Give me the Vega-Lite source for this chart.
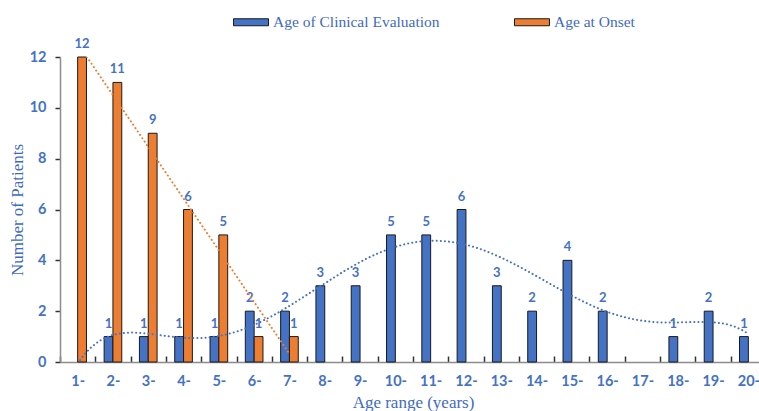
{
  "$schema": "https://vega.github.io/schema/vega-lite/v6.json",
  "width": 706,
  "height": 305,
  "autosize": "none",
  "padding": {"left": 60, "top": 57, "right": 0, "bottom": 49},
  "background": "white",
  "data": {
    "values": [
      {"age": 1, "series": "Age of Clinical Evaluation", "value": 0},
      {"age": 2, "series": "Age of Clinical Evaluation", "value": 1},
      {"age": 3, "series": "Age of Clinical Evaluation", "value": 1},
      {"age": 4, "series": "Age of Clinical Evaluation", "value": 1},
      {"age": 5, "series": "Age of Clinical Evaluation", "value": 1},
      {"age": 6, "series": "Age of Clinical Evaluation", "value": 2},
      {"age": 7, "series": "Age of Clinical Evaluation", "value": 2},
      {"age": 8, "series": "Age of Clinical Evaluation", "value": 3},
      {"age": 9, "series": "Age of Clinical Evaluation", "value": 3},
      {"age": 10, "series": "Age of Clinical Evaluation", "value": 5},
      {"age": 11, "series": "Age of Clinical Evaluation", "value": 5},
      {"age": 12, "series": "Age of Clinical Evaluation", "value": 6},
      {"age": 13, "series": "Age of Clinical Evaluation", "value": 3},
      {"age": 14, "series": "Age of Clinical Evaluation", "value": 2},
      {"age": 15, "series": "Age of Clinical Evaluation", "value": 4},
      {"age": 16, "series": "Age of Clinical Evaluation", "value": 2},
      {"age": 18, "series": "Age of Clinical Evaluation", "value": 1},
      {"age": 19, "series": "Age of Clinical Evaluation", "value": 2},
      {"age": 20, "series": "Age of Clinical Evaluation", "value": 1},
      {"age": 1, "series": "Age at Onset", "value": 12},
      {"age": 2, "series": "Age at Onset", "value": 11},
      {"age": 3, "series": "Age at Onset", "value": 9},
      {"age": 4, "series": "Age at Onset", "value": 6},
      {"age": 5, "series": "Age at Onset", "value": 5},
      {"age": 6, "series": "Age at Onset", "value": 1},
      {"age": 7, "series": "Age at Onset", "value": 1}
    ]
  },
  "layer": [
    {
      "transform": [{"filter": "datum.value > 0"}],
      "encoding": {
        "x": {
          "field": "age",
          "type": "ordinal",
          "scale": {"domain": [1,2,3,4,5,6,7,8,9,10,11,12,13,14,15,16,17,18,19,20], "paddingInner": 0, "paddingOuter": 0},
          "axis": {
            "title": "Age range (years)",
            "labelExpr": "datum.label == null || datum.label === '' ? '' : datum.label + '-'",
            "labelAngle": 0,
            "ticks": true,
            "tickBand": "extent",
            "tickExtra": true,
            "tickSize": -6,
            "labelPadding": 18,
            "titlePadding": 7
          }
        },
        "xOffset": {
          "field": "series",
          "type": "nominal",
          "scale": {"domain": ["Age of Clinical Evaluation", "Age at Onset"], "paddingOuter": 1, "paddingInner": 0}
        },
        "y": {
          "field": "value",
          "type": "quantitative",
          "scale": {"domain": [0, 12], "nice": false},
          "axis": {"title": "Number of Patients", "values": [0,2,4,6,8,10,12], "grid": false, "titlePadding": 3}
        }
      },
      "layer": [
        {
          "mark": {"type": "bar", "stroke": "#1a1a1a", "strokeWidth": 1},
          "encoding": {
            "color": {
              "field": "series",
              "type": "nominal",
              "scale": {"domain": ["Age of Clinical Evaluation", "Age at Onset"], "range": ["#4472C4", "#ED7D31"]},
              "legend": {
                "title": null,
                "orient": "none",
                "direction": "horizontal",
                "legendX": 173,
                "legendY": -53,
                "symbolType": "M-1,-0.2L1,-0.2L1,0.2L-1,0.2Z",
                "symbolSize": 1225,
                "symbolStrokeColor": "#1a1a1a",
                "symbolStrokeWidth": 1,
                "symbolOpacity": 1,
                "labelFont": "Liberation Serif",
                "labelFontSize": 15.5,
                "labelColor": "#3F6BBF",
                "labelOffset": 4,
                "columnPadding": 72,
                "labelLimit": 300
              }
            }
          }
        },
        {
          "mark": {"type": "text", "baseline": "bottom", "dy": -6, "font": "Lato", "fontWeight": "bold", "fontSize": 13, "color": "#4472C4"},
          "encoding": {"text": {"field": "value", "type": "quantitative"}}
        }
      ]
    },
    {
      "encoding": {
        "x": {"field": "age", "type": "quantitative", "scale": {"domain": [0.5, 20.5], "nice": false, "zero": false}, "axis": null},
        "y": {"field": "value", "type": "quantitative"}
      },
      "layer": [
        {
          "transform": [
            {"filter": "datum.series === 'Age of Clinical Evaluation'"},
            {"regression": "value", "on": "age", "method": "poly", "order": 6}
          ],
          "mark": {"type": "line", "clip": true, "color": "#4472C4", "strokeWidth": 2, "strokeDash": [0.1, 4], "strokeCap": "round"}
        },
        {
          "transform": [
            {"filter": "datum.series === 'Age at Onset'"},
            {"regression": "value", "on": "age"}
          ],
          "mark": {"type": "line", "clip": true, "color": "#ED7D31", "strokeWidth": 2, "strokeDash": [0.1, 4], "strokeCap": "round"}
        }
      ]
    }
  ],
  "resolve": {"scale": {"x": "independent"}},
  "config": {
    "view": {"stroke": null},
    "axis": {
      "labelFont": "Lato",
      "labelFontWeight": "bold",
      "labelFontSize": 14.5,
      "labelColor": "#4472C4",
      "titleFont": "Liberation Serif",
      "titleFontWeight": "normal",
      "titleFontSize": 17,
      "titleColor": "#3F6BBF",
      "domainColor": "#8c8c8c",
      "domainWidth": 1.5,
      "tickColor": "#333333",
      "tickWidth": 1.5,
      "grid": false
    },
    "axisY": {"tickSize": 5, "labelPadding": 9}
  }
}
